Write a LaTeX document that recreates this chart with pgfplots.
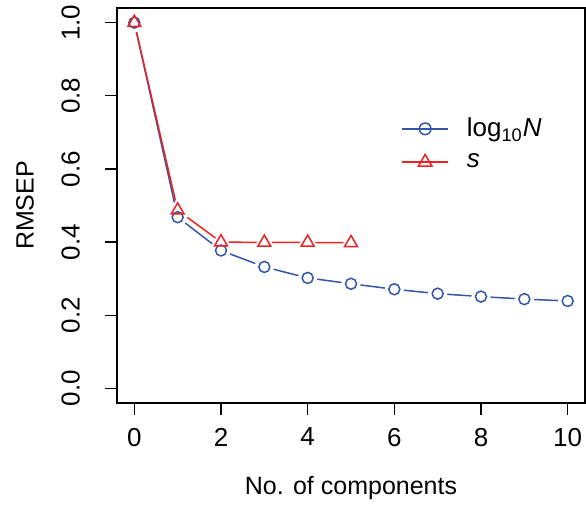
\documentclass[border=0pt]{standalone}
\usepackage{fontspec}
\setmainfont{Liberation Sans}
\usepackage{pgfplots}
\pgfplotsset{compat=1.18}
\definecolor{rblue}{HTML}{3355AA}
\definecolor{rred}{HTML}{EE2222}

\pgfplotstableread{
k   logN
0   1.000
1   0.468
2   0.377
3   0.332
4   0.302
5   0.286
6   0.271
7   0.259
8   0.251
9   0.244
10  0.239
}\logN

\pgfplotstableread{
k   s
0   1.000
1   0.487
2   0.400
3   0.399
4   0.399
5   0.398
}\sdev

\begin{document}
\begin{tikzpicture}
\begin{axis}[
    set layers,
    scale only axis,
    width=234pt, height=197.5pt,
    xmin=-0.4, xmax=10.4,
    ymin=-0.04, ymax=1.04,
    xtick={0,2,4,6,8,10},
    ytick={0,0.2,...,1.0},
    yticklabel style={/pgf/number format/fixed, /pgf/number format/fixed zerofill, /pgf/number format/precision=1, rotate=90, anchor=south, yshift=9pt},
    xticklabel style={yshift=-3pt},
    /pgf/number format/assume math mode=true,
    tick pos=left,
    tick align=outside,
    major tick length=6pt,
    tick style={black, line width=0.6pt},
    axis line style={black, line width=0.6pt},
    ticklabel style={font=\fontsize{13}{15}\selectfont},
    label style={font=\fontsize{12.5}{15}\selectfont},
    xlabel={No. of components},
    ylabel={RMSEP},
    xlabel style={at={(axis description cs:0.5,-0.2152)}, anchor=center},
    ylabel style={at={(axis description cs:-0.1966,0.5)}, anchor=center},
    legend style={draw=none, fill=none, at={(axis description cs:0.594,0.743)}, anchor=north west,
        font=\fontsize{13}{15}\selectfont, row sep=3pt, legend cell align=left,
        /tikz/every odd column/.append style={column sep=7pt}},
    legend image code/.code={
        \draw[#1, mark repeat=2, mark phase=2] plot coordinates {(0pt,0pt) (11.5pt,0pt) (23pt,0pt)};
    },
    clip=false,
    clip marker paths=true,
]
% lines, on a layer below the points
\addplot[rblue, line width=0.75pt, no marks, forget plot, on layer=axis grid] table[x=k, y=logN] {\logN};
\addplot[rred, line width=0.75pt, no marks, forget plot, on layer=axis grid] table[x=k, y=s] {\sdev};
% white disks that leave a gap round each point
\addplot[white, only marks, mark=*, mark size=4.6pt, forget plot] table[x=k, y=logN] {\logN};
\addplot[white, only marks, mark=triangle*, mark size=6.2pt, forget plot] table[x=k, y=s] {\sdev};
% points
\addplot[only marks, mark=o, mark size=2.75pt, rblue, mark options={line width=0.75pt}, forget plot] table[x=k, y=logN] {\logN};
\addplot[only marks, mark=triangle, mark size=3.7pt, rred, mark options={line width=0.75pt}, forget plot] table[x=k, y=s] {\sdev};
\addlegendimage{rblue, line width=0.75pt, mark=o, mark size=2.9pt, mark options={fill=white}}
\addlegendentry{log\textsubscript{10}\textit{N}}
\addlegendimage{rred, line width=0.75pt, mark=triangle, mark size=3.9pt, mark options={fill=white}}
\addlegendentry{\textit{s}}
\coordinate (bbsw) at ([shift={(-58.5pt,-53pt)}]rel axis cs:0,0);
\coordinate (bbne) at ([shift={(0.5pt,4pt)}]rel axis cs:1,1);
\end{axis}
\pgfresetboundingbox
\path (bbsw) rectangle (bbne);
\end{tikzpicture}
\end{document}
